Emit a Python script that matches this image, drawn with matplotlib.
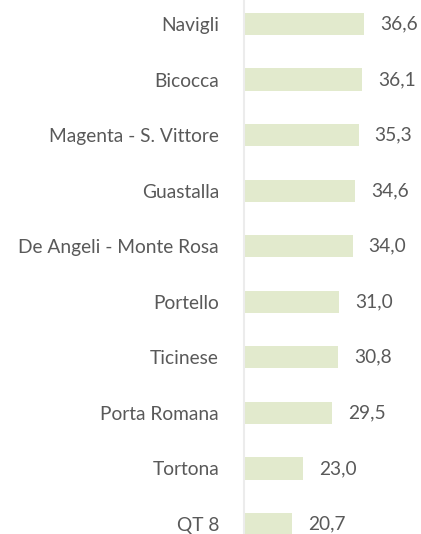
import matplotlib.pyplot as plt

zones = ["Navigli", "Bicocca", "Magenta - S. Vittore", "Guastalla",
         "De Angeli - Monte Rosa", "Portello", "Ticinese", "Porta Romana",
         "Tortona", "QT 8"]
values = [36.6, 36.1, 35.3, 34.6, 34.0, 31.0, 30.8, 29.5, 23.0, 20.7]

plt.rcParams['font.family'] = ['Lato', 'DejaVu Sans']

fig = plt.figure(figsize=(4.21, 5.34), dpi=100)
ax = fig.add_axes([244 / 421, 0, 1 - 244 / 421, 1])

pos = list(range(len(zones)))
ax.barh(pos, [v - 10 for v in values], left=10, height=0.4, color='#e2eacd')

for p, v in zip(pos, values):
    ax.text(v + 16 / 4.53, p, f"{v:.1f}".replace('.', ','), va='center', ha='left',
            fontsize=13.8, color='#595959')

ax.set_xlim(10, 10 + 177 / 4.53)
ax.set_ylim(9 + 10 / 55.56, -24 / 55.56)
ax.set_yticks(pos)
ax.set_yticklabels(zones, fontsize=13.8, color='#595959')
ax.tick_params(axis='y', length=0, pad=18)
ax.set_xticks([])
for s in ['top', 'right', 'bottom']:
    ax.spines[s].set_visible(False)
ax.spines['left'].set_color('#ececec')
ax.spines['left'].set_linewidth(1.5)

plt.savefig("out.png", dpi=100)
